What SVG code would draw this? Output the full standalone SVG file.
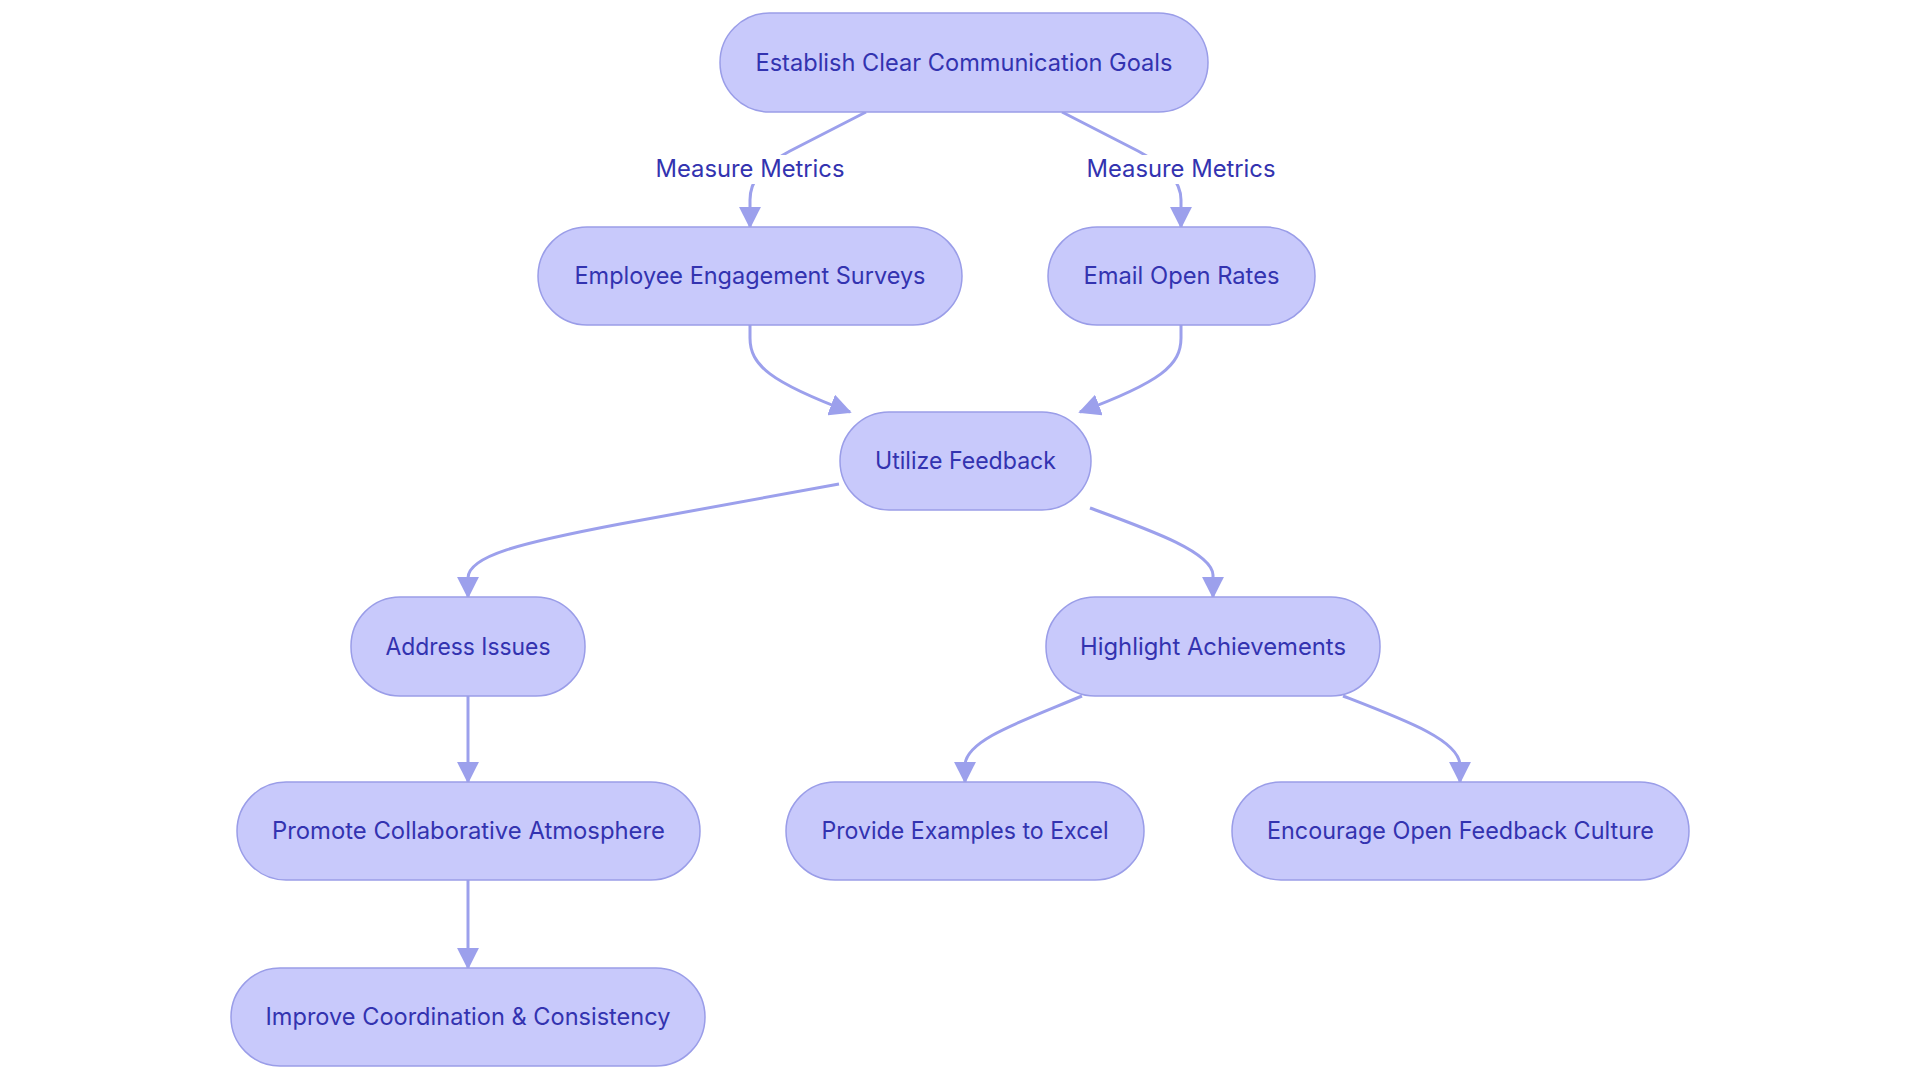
<svg xmlns="http://www.w3.org/2000/svg" width="1920" height="1080" viewBox="0 0 1920 1080">
<defs>
<marker id="arr" viewBox="0 0 12 12" refX="11" refY="6" markerWidth="22" markerHeight="22" markerUnits="userSpaceOnUse" orient="auto">
<path d="M0,0 L12,6 L0,12 Z" fill="#9ca0ec"/>
</marker>
<style>
.node rect{fill:#c8c9fb;stroke:#9a9de8;stroke-width:1.5}
.node text,.lbl text{font-family:Inter,"Noto Sans",sans-serif;font-size:24px;font-weight:400;fill:#3333b0;text-anchor:middle}
.edges path{fill:none;stroke:#9ca0ec;stroke-width:3;marker-end:url(#arr)}
.lbl rect{fill:#ffffff}
</style>
</defs>
<rect width="1920" height="1080" fill="#ffffff"/>
<g class="edges">
<path d="M866,112 L790,151 C760,167 750,182 750,200 L750,227"/>
<path d="M1062,112 L1138,151 C1168,167 1181,182 1181,200 L1181,227"/>
<path d="M750,325 L750,338 C750,365 770,382 850,412"/>
<path d="M1181,325 L1181,338 C1181,365 1161,382 1080,412"/>
<path d="M839,484 L620,524 C520,543 468,556 468,578 L468,597"/>
<path d="M1090,508 C1150,530 1212,552 1213,575 L1213,597"/>
<path d="M468,696 L468,782"/>
<path d="M468,880 L468,968"/>
<path d="M1082,696 C1020,722 966,740 965,765 L965,782"/>
<path d="M1343,696 C1405,720 1459,740 1460,765 L1460,782"/>
</g>
<g class="lbl" id="label-1">
<rect x="654" y="155" width="192" height="29"/>
<text x="750" y="177" textLength="189" lengthAdjust="spacingAndGlyphs">Measure Metrics</text>
</g>
<g class="lbl" id="label-2">
<rect x="1085" y="155" width="192" height="29"/>
<text x="1181" y="177" textLength="189" lengthAdjust="spacingAndGlyphs">Measure Metrics</text>
</g>
<g class="node" id="n-goals">
<rect x="720" y="13" width="488" height="99" rx="49.5"/>
<text x="964" y="71" textLength="417" lengthAdjust="spacingAndGlyphs">Establish Clear Communication Goals</text>
</g>
<g class="node" id="n-surveys">
<rect x="538" y="227" width="424" height="98" rx="49"/>
<text x="750" y="284" textLength="351" lengthAdjust="spacingAndGlyphs">Employee Engagement Surveys</text>
</g>
<g class="node" id="n-email">
<rect x="1048" y="227" width="267" height="98" rx="49"/>
<text x="1181.5" y="284" textLength="196" lengthAdjust="spacingAndGlyphs">Email Open Rates</text>
</g>
<g class="node" id="n-feedback">
<rect x="840" y="412" width="251" height="98" rx="49"/>
<text x="965.5" y="469" textLength="181" lengthAdjust="spacingAndGlyphs">Utilize Feedback</text>
</g>
<g class="node" id="n-issues">
<rect x="351" y="597" width="234" height="99" rx="49"/>
<text x="468" y="655" textLength="165" lengthAdjust="spacingAndGlyphs">Address Issues</text>
</g>
<g class="node" id="n-achieve">
<rect x="1046" y="597" width="334" height="99" rx="49"/>
<text x="1213" y="655" textLength="266" lengthAdjust="spacingAndGlyphs">Highlight Achievements</text>
</g>
<g class="node" id="n-collab">
<rect x="237" y="782" width="463" height="98" rx="49"/>
<text x="468.5" y="839" textLength="393" lengthAdjust="spacingAndGlyphs">Promote Collaborative Atmosphere</text>
</g>
<g class="node" id="n-examples">
<rect x="786" y="782" width="358" height="98" rx="49"/>
<text x="965" y="839" textLength="287" lengthAdjust="spacingAndGlyphs">Provide Examples to Excel</text>
</g>
<g class="node" id="n-culture">
<rect x="1232" y="782" width="457" height="98" rx="49"/>
<text x="1460.5" y="839" textLength="387" lengthAdjust="spacingAndGlyphs">Encourage Open Feedback Culture</text>
</g>
<g class="node" id="n-coord">
<rect x="231" y="968" width="474" height="98" rx="49"/>
<text x="468" y="1025" textLength="405" lengthAdjust="spacingAndGlyphs">Improve Coordination &amp; Consistency</text>
</g>
</svg>
